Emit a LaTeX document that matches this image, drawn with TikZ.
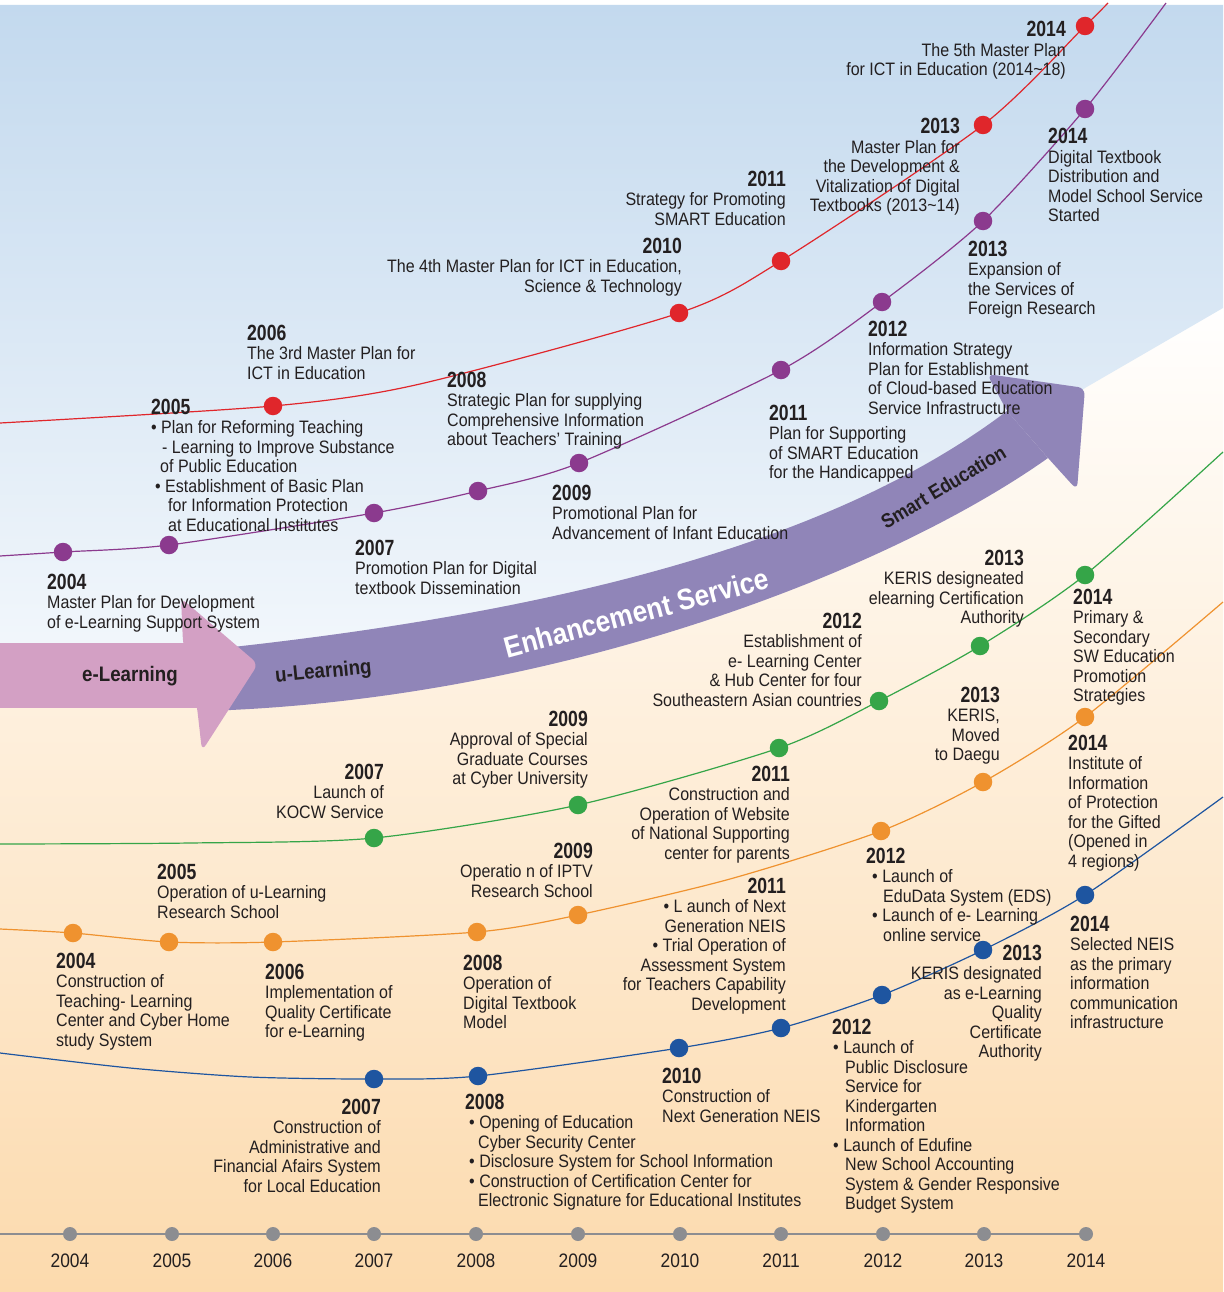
\documentclass[tikz,border=0pt]{standalone}
\usepackage{fontspec}
\setmainfont{Liberation Sans}[FakeStretch=0.89]
\newfontfamily\yrfont{Liberation Sans}[FakeStretch=0.80]
\usetikzlibrary{calc}

\definecolor{ink}{HTML}{231F20}
\definecolor{cred}{HTML}{E0262B}
\definecolor{cpur}{HTML}{8B3A8E}
\definecolor{cgrn}{HTML}{35A548}
\definecolor{corg}{HTML}{EF922F}
\definecolor{cblu}{HTML}{1E55A0}
\definecolor{axgray}{HTML}{8C8D91}
\definecolor{bgtop}{HTML}{C3D9EE}
\definecolor{bgbot}{HTML}{F4F8FC}
\definecolor{peachmid}{HTML}{FDF0DF}
\definecolor{peach}{HTML}{FCDAAD}
\definecolor{pinkarrow}{HTML}{D3A0C4}
\definecolor{purarrow}{HTML}{9085B8}

% event label: year in bold, description lines below it
\newcommand\evl[4]{%
  \node[yr,anchor=base west] (#1y) at (#2) {#3};
  \node[txt,anchor=base west] (#1t) at ([yshift=-19.5pt]#1y.base west)
    {\begin{tabular}[t]{@{}l@{}}#4\end{tabular}};}
\newcommand\evr[4]{%
  \node[yr,anchor=base east] (#1y) at (#2) {#3};
  \node[txt,anchor=base east] (#1t) at ([yshift=-19.5pt]#1y.base east)
    {\begin{tabular}[t]{@{}r@{}}#4\end{tabular}};}

\begin{document}
\begin{tikzpicture}[x=1pt,y=-1pt,
  yr/.style={font=\yrfont\fontsize{22}{24}\selectfont\bfseries, text=ink, inner sep=0pt},
  txt/.style={font=\fontsize{18}{19.5}\selectfont, text=ink, inner sep=0pt},
  axlab/.style={font=\fontsize{19.5}{21}\selectfont, text=ink, inner sep=0pt, anchor=base},
  dot/.style={circle, inner sep=0pt, minimum size=18.5pt},
  adot/.style={circle, inner sep=0pt, minimum size=14pt, fill=axgray},
  curve/.style={line width=1.2pt},
  band/.style={font=\fontsize{21}{23}\selectfont\bfseries, inner sep=0pt, anchor=base}]

\useasboundingbox (0,0) rectangle (1223,1292);

% ---------- background ----------
\fill[white] (0,0) rectangle (1223,1292);
\shade[top color=white, middle color=peachmid, bottom color=peach]
  (0,300) rectangle (1223,1292);
\shade[top color=bgtop, bottom color=bgbot]
  (0,5) -- (1223,5) -- (1223,308) -- (1085,388) -- (1030,430)
  .. controls (850,560) and (550,660) .. (230,680) -- (0,680) -- cycle;

% ---------- stage arrow ----------
\fill[purarrow] (205,650) .. controls (520,617) and (820,553) .. (1007,411)
  -- (1048,458) .. controls (890,570) and (560,700) .. (205,711) -- cycle;
\fill[purarrow, rounded corners=7pt]
  (1007,411) -- (987,374) -- (1085,388) -- (1077,490) -- (1048,458) -- cycle;
\fill[pinkarrow] (-2,643) rectangle (198,708);
\fill[pinkarrow, rounded corners=7pt]
  (183,643) -- (181,598) -- (258,664) -- (202,751) -- (197,707) -- cycle;

\node[band, text=ink] (elearn) at (130,681) {e-Learning};
\node[band, text=ink, rotate=5.5] (ulearn) at (324,678) {u-Learning};
\node[band, text=white, font=\fontsize{29.5}{32}\selectfont\bfseries, rotate=15]
  (enh) at (639,623) {Enhancement Service};
\node[band, text=ink, font=\fontsize{20}{22}\selectfont\bfseries, rotate=31]
  (smart) at (947,493) {Smart Education};

% ---------- curve points ----------
% red
\coordinate (r0) at (0,423);
\coordinate (r06) at (273,406);
\coordinate (ra) at (420,384);
\coordinate (r10) at (679,313);
\coordinate (r11) at (781,261);
\coordinate (r13) at (983,125);
\coordinate (r14) at (1085,26);
\coordinate (r1) at (1108,3);
% purple
\coordinate (p0) at (0,556);
\coordinate (p04) at (63,552);
\coordinate (p05) at (169,545);
\coordinate (p07) at (374,513);
\coordinate (p08) at (478,491);
\coordinate (p09) at (579,463);
\coordinate (p11) at (781,370);
\coordinate (p12) at (882,302);
\coordinate (p13) at (983,221);
\coordinate (p14) at (1085,109);
\coordinate (p1) at (1166,3);
% green
\coordinate (g0) at (0,844);
\coordinate (ga) at (190,843);
\coordinate (g07) at (374,838);
\coordinate (g09) at (578,805);
\coordinate (g11) at (779,748);
\coordinate (g12) at (879,701);
\coordinate (g13) at (980,646);
\coordinate (g14) at (1085,575);
\coordinate (g1) at (1223,452);
% orange
\coordinate (o0) at (0,929);
\coordinate (o04) at (73,933);
\coordinate (o05) at (169,942);
\coordinate (o06) at (273,942);
\coordinate (o08) at (477,932);
\coordinate (o09) at (578,915);
\coordinate (oa) at (730,879);
\coordinate (o12) at (881,831);
\coordinate (o13) at (983,782);
\coordinate (o14) at (1085,717);
\coordinate (o1) at (1223,602);
% blue
\coordinate (b0) at (0,1053);
\coordinate (ba) at (130,1068);
\coordinate (bb) at (250,1077);
\coordinate (b07) at (374,1079);
\coordinate (b08) at (478,1076);
\coordinate (b10) at (679,1048);
\coordinate (b11) at (781,1028);
\coordinate (b12) at (882,995);
\coordinate (b13) at (983,950);
\coordinate (b14) at (1085,895);
\coordinate (b1) at (1223,797);

\draw[curve, cred] plot[smooth, tension=0.45] coordinates
  {(r0) (r06) (ra) (r10) (r11) (r13) (r14) (r1)};
\draw[curve, cpur] plot[smooth, tension=0.45] coordinates
  {(p0) (p04) (p05) (p07) (p08) (p09) (p11) (p12) (p13) (p14) (p1)};
\draw[curve, cgrn] plot[smooth, tension=0.45] coordinates
  {(g0) (ga) (g07) (g09) (g11) (g12) (g13) (g14) (g1)};
\draw[curve, corg] plot[smooth, tension=0.45] coordinates
  {(o0) (o04) (o05) (o06) (o08) (o09) (oa) (o12) (o13) (o14) (o1)};
\draw[curve, cblu] plot[smooth, tension=0.45] coordinates
  {(b0) (ba) (bb) (b07) (b08) (b10) (b11) (b12) (b13) (b14) (b1)};

\foreach \n in {r06,r10,r11,r13,r14} \node[dot, fill=cred] (\n d) at (\n) {};
\foreach \n in {p04,p05,p07,p08,p09,p11,p12,p13,p14} \node[dot, fill=cpur] (\n d) at (\n) {};
\foreach \n in {g07,g09,g11,g12,g13,g14} \node[dot, fill=cgrn] (\n d) at (\n) {};
\foreach \n in {o04,o05,o06,o08,o09,o12,o13,o14} \node[dot, fill=corg] (\n d) at (\n) {};
\foreach \n in {b07,b08,b10,b11,b12,b13,b14} \node[dot, fill=cblu] (\n d) at (\n) {};

% ---------- year axis ----------
\coordinate (ax0) at (0,1234);
\coordinate (ax1) at (1086,1234);
\draw[axgray, line width=2pt] (ax0) -- (ax1);
\foreach \yy/\xx in {2004/70,2005/172,2006/273,2007/374,2008/476,2009/578,2010/680,2011/781,2012/883,2013/984,2014/1086}{
  \node[adot] (a\yy) at (\xx,1234) {};
  \node[axlab] (al\yy) at (\xx,1267) {\yy};
}

% ---------- labels: red ----------
\evl{lr06}{247,340}{2006}{The 3rd Master Plan for\\ICT in Education}
\evr{lr10}{682,253}{2010}{The 4th Master Plan for ICT in Education,\\Science \& Technology}
\evr{lr11}{786,186}{2011}{Strategy for Promoting\\SMART Education}
\evr{lr13}{960,134}{2013}{Master Plan for\\the Development \&\\Vitalization of Digital\\Textbooks (2013\textasciitilde14)}
\evr{lr14}{1066,37}{2014}{The 5th Master Plan\\for ICT in Education (2014\textasciitilde18)}

% ---------- labels: purple ----------
\evl{lp04}{47,589}{2004}{Master Plan for Development\\of e-Learning Support System}
\evl{lp05}{151,414}{2005}{• Plan for Reforming Teaching\\\hspace*{11pt}- Learning to Improve Substance\\\hspace*{9pt}of Public Education\\\hspace*{4pt}• Establishment of Basic Plan\\\hspace*{17pt}for Information Protection\\\hspace*{17pt}at Educational Institutes}
\evl{lp07}{355,555}{2007}{Promotion Plan for Digital\\textbook Dissemination}
\evl{lp08}{447,387}{2008}{Strategic Plan for supplying\\Comprehensive Information\\about Teachers’ Training}
\evl{lp09}{552,500}{2009}{Promotional Plan for\\Advancement of Infant Education}
\evl{lp11}{769,420}{2011}{Plan for Supporting\\of SMART Education\\for the Handicapped}
\evl{lp12}{868,336}{2012}{Information Strategy\\Plan for Establishment\\of Cloud-based Education\\Service Infrastructure}
\evl{lp13}{968,256}{2013}{Expansion of\\the Services of\\Foreign Research}
\evl{lp14}{1048,144}{2014}{Digital Textbook\\Distribution and\\Model School Service\\Started}

% ---------- labels: green ----------
\evr{lg07}{384,779}{2007}{Launch of\\KOCW Service}
\evr{lg09}{588,726}{2009}{Approval of Special\\Graduate Courses\\at Cyber University}
\evr{lg11}{790,781}{2011}{Construction and\\Operation of Website\\of National Supporting\\center for parents}
\evr{lg12}{862,628}{2012}{Establishment of\\e- Learning Center\\\& Hub Center for four\\Southeastern Asian countries}
\evr{lg13}{1024,565}{2013}{KERIS designeated\\elearning Certification\\Authority}
\evl{lg14}{1073,604}{2014}{Primary \&\\Secondary\\SW Education\\Promotion\\Strategies}

% ---------- labels: orange ----------
\evl{lo04}{56,968}{2004}{Construction of\\Teaching- Learning\\Center and Cyber Home\\study System}
\evl{lo05}{157,879}{2005}{Operation of u-Learning\\Research School}
\evl{lo06}{265,979}{2006}{Implementation of\\Quality Certificate\\for e-Learning}
\evl{lo08}{463,970}{2008}{Operation of\\Digital Textbook\\Model}
\evr{lo09}{593,858}{2009}{Operatio n of IPTV\\Research School}
\evl{lo12}{866,863}{2012}{\hspace*{6pt}• Launch of\\\hspace*{17pt}EduData System (EDS)\\\hspace*{6pt}• Launch of e- Learning\\\hspace*{17pt}online service}
\evr{lo13}{1000,702}{2013}{KERIS,\\Moved\\to Daegu}
\evl{lo14}{1068,750}{2014}{Institute of\\Information\\of Protection\\for the Gifted\\(Opened in\\4 regions)}

% ---------- labels: blue ----------
\evr{lb07}{381,1114}{2007}{Construction of\\Administrative and\\Financial Afairs System\\for Local Education}
\evl{lb08}{465,1109}{2008}{\hspace*{4pt}• Opening of Education\\\hspace*{13pt}Cyber Security Center\\\hspace*{4pt}• Disclosure System for School Information\\\hspace*{4pt}• Construction of Certification Center for\\\hspace*{13pt}Electronic Signature for Educational Institutes}
\evl{lb10}{662,1083}{2010}{Construction of\\Next Generation NEIS}
\evr{lb11}{786,893}{2011}{• L aunch of Next\\Generation NEIS\\• Trial Operation of\\Assessment System\\for Teachers Capability\\Development}
\evl{lb12}{832,1034}{2012}{\hspace*{1pt}• Launch of\\\hspace*{13pt}Public Disclosure\\\hspace*{13pt}Service for\\\hspace*{13pt}Kindergarten\\\hspace*{13pt}Information\\\hspace*{1pt}• Launch of Edufine\\\hspace*{13pt}New School Accounting\\\hspace*{13pt}System \& Gender Responsive\\\hspace*{13pt}Budget System}
\evr{lb13}{1042,960}{2013}{KERIS designated\\as e-Learning\\Quality\\Certificate\\Authority}
\evl{lb14}{1070,931}{2014}{Selected NEIS\\as the primary\\information\\communication\\infrastructure}

\end{tikzpicture}
\end{document}
